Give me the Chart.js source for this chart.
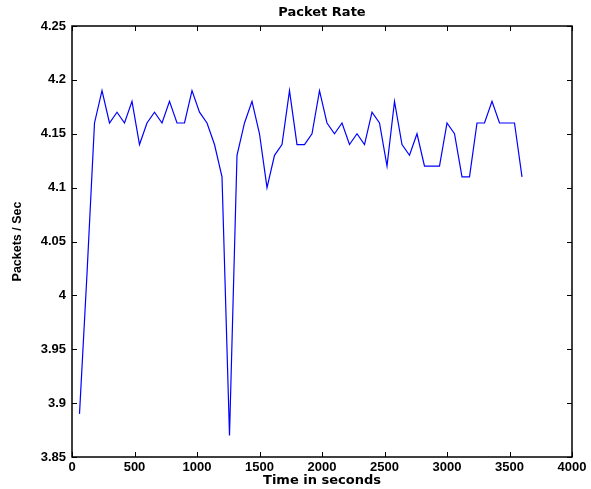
<!DOCTYPE html>
<html>
<head>
<meta charset="utf-8">
<script src="https://cdn.jsdelivr.net/npm/chart.js@4.4.1/dist/chart.umd.min.js"></script>
<style>
  html, body { margin: 0; padding: 0; background: #fff; }
  #wrap { width: 591px; height: 489px; }
</style>
</head>
<body>
<div id="wrap"><canvas id="rateGraph" width="591" height="489"></canvas></div>
<script>
// sample times (seconds), one every 60 s
var times = [60, 120, 180, 240, 300, 360, 420, 480, 540, 600,
             660, 720, 780, 840, 900, 960, 1020, 1080, 1140, 1200,
             1260, 1320, 1380, 1440, 1500, 1560, 1620, 1680, 1740, 1800,
             1860, 1920, 1980, 2040, 2100, 2160, 2220, 2280, 2340, 2400,
             2460, 2520, 2580, 2640, 2700, 2760, 2820, 2880, 2940, 3000,
             3060, 3120, 3180, 3240, 3300, 3360, 3420, 3480, 3540, 3600];
// packets / sec
var rates = [3.89, 4.02, 4.16, 4.19, 4.16, 4.17, 4.16, 4.18, 4.14, 4.16,
             4.17, 4.16, 4.18, 4.16, 4.16, 4.19, 4.17, 4.16, 4.14, 4.11,
             3.87, 4.13, 4.16, 4.18, 4.15, 4.10, 4.13, 4.14, 4.19, 4.14,
             4.14, 4.15, 4.19, 4.16, 4.15, 4.16, 4.14, 4.15, 4.14, 4.17,
             4.16, 4.12, 4.18, 4.14, 4.13, 4.15, 4.12, 4.12, 4.12, 4.16,
             4.15, 4.11, 4.11, 4.16, 4.16, 4.18, 4.16, 4.16, 4.16, 4.11];
var xTicks = [0, 500, 1000, 1500, 2000, 2500, 3000, 3500, 4000];
var yTicks = [3.85, 3.9, 3.95, 4, 4.05, 4.1, 4.15, 4.2, 4.25];

var tickFont = { family: 'Liberation Sans', weight: 'bold', size: 13 };

// matlab style box with inward tick marks
var boxPlugin = {
  id: 'boxPlugin',
  afterDraw: function(chart) {
    var ctx = chart.ctx, a = chart.chartArea;
    var xs = chart.scales.x, ys = chart.scales.y;
    ctx.save();
    ctx.strokeStyle = '#000';
    ctx.lineWidth = 1;
    xTicks.forEach(function(v) {
      var px = Math.round(xs.getPixelForValue(v)) + 0.5;
      ctx.beginPath();
      ctx.moveTo(px, a.bottom); ctx.lineTo(px, a.bottom - 5);
      ctx.moveTo(px, a.top); ctx.lineTo(px, a.top + 5);
      ctx.stroke();
    });
    yTicks.forEach(function(v) {
      var py = Math.round(ys.getPixelForValue(v)) + 0.5;
      ctx.beginPath();
      ctx.moveTo(a.left, py); ctx.lineTo(a.left + 5, py);
      ctx.moveTo(a.right, py); ctx.lineTo(a.right - 5, py);
      ctx.stroke();
    });
    ctx.lineWidth = 1.5;
    ctx.strokeRect(a.left, a.top, a.right - a.left, a.bottom - a.top);
    ctx.restore();
  }
};

new Chart(document.getElementById('rateGraph'), {
  type: 'line',
  data: {
    datasets: [{
      label: 'Packet Rate',
      data: times.map(function(t, i) { return { x: t, y: rates[i] }; }),
      borderColor: '#0000ff',
      borderWidth: 1.2,
      pointRadius: 0,
      tension: 0,
      fill: false
    }]
  },
  options: {
    responsive: false,
    animation: false,
    layout: { padding: { top: 0, right: 19, bottom: 0, left: 0 } },
    plugins: {
      legend: { display: false },
      tooltip: { enabled: false },
      title: {
        display: true,
        text: 'Packet Rate',
        fullSize: false,
        color: '#000',
        font: { family: 'DejaVu Sans', weight: 'bold', size: 13 },
        padding: { top: 5, bottom: 5.4 }
      }
    },
    scales: {
      x: {
        type: 'linear',
        min: 0,
        max: 4000,
        grid: { display: false, drawTicks: false },
        border: { display: false },
        afterBuildTicks: function(scale) {
          scale.ticks = xTicks.map(function(v) { return { value: v }; });
        },
        afterFit: function(scale) { scale.height = 32; },
        ticks: {
          color: '#000',
          font: tickFont,
          padding: 3,
          maxRotation: 0,
          callback: function(v) { return String(v); }
        },
        title: {
          display: true,
          text: 'Time in seconds',
          color: '#000',
          font: { family: 'DejaVu Sans', weight: 'bold', size: 13 },
          padding: { top: 0, bottom: 1 }
        }
      },
      y: {
        min: 3.85,
        max: 4.25,
        grid: { display: false, drawTicks: false },
        border: { display: false },
        afterBuildTicks: function(scale) {
          scale.ticks = yTicks.map(function(v) { return { value: v }; });
        },
        afterFit: function(scale) { scale.width = 72; },
        ticks: {
          color: '#000',
          font: tickFont,
          padding: 6,
          callback: function(v) { return String(parseFloat(v.toFixed(2))); }
        },
        title: {
          display: true,
          text: 'Packets / Sec',
          color: '#000',
          font: { family: 'Liberation Sans', weight: 'bold', size: 12.5 },
          padding: { top: 10, bottom: 0 }
        }
      }
    }
  },
  plugins: [boxPlugin]
});
</script>
</body>
</html>
